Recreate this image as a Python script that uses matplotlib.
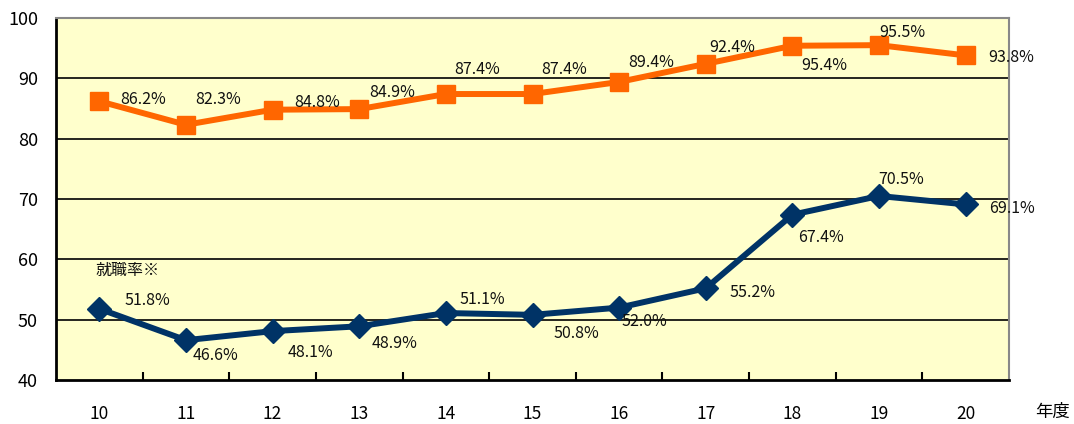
import matplotlib
matplotlib.use("Agg")
import matplotlib.pyplot as plt

plt.rcParams['font.family'] = ['Noto Sans CJK JP', 'DejaVu Sans']

years = ["10", "11", "12", "13", "14", "15", "16", "17", "18", "19", "20"]
rate_a = [86.2, 82.3, 84.8, 84.9, 87.4, 87.4, 89.4, 92.4, 95.4, 95.5, 93.8]
rate_b = [51.8, 46.6, 48.1, 48.9, 51.1, 50.8, 52.0, 55.2, 67.4, 70.5, 69.1]

# label offsets in pixels (dx, dy)
off_a = [(44, 2), (32, 25), (45, 7), (33, 17), (31, 25), (32, 25), (32, 19),
         (26, 16), (32, -20), (23, 13), (46, -2)]
off_b = [(48, 8), (30, -15), (38, -21), (35, -17), (36, 14), (44, -19),
         (25, -14), (47, -4), (29, -23), (22, 16), (46, -4)]

orange = "#FF6600"
navy = "#003366"

fig = plt.figure(figsize=(10.74, 4.24), dpi=100)
ax = fig.add_axes([56/1074, 44/424, 953/1074, 362/424])
ax.set_facecolor("#FFFFCC")

x = list(range(len(years)))
ax.plot(x, rate_a, color=orange, lw=4.3, marker="s", ms=13, zorder=3)
ax.plot(x, rate_b, color=navy, lw=4.3, marker="D", ms=12.5, zorder=3)

for xi, v, (dx, dy) in zip(x, rate_a, off_a):
    ax.annotate(f"{v:.1f}%", (xi, v), xytext=(dx, dy), textcoords="offset pixels",
                ha="center", va="center", fontsize=11.5, color="#111111", zorder=4,
                annotation_clip=False)
for xi, v, (dx, dy) in zip(x, rate_b, off_b):
    ax.annotate(f"{v:.1f}%", (xi, v), xytext=(dx, dy), textcoords="offset pixels",
                ha="center", va="center", fontsize=11.5, color="#111111", zorder=4,
                annotation_clip=False)

ax.annotate("就職率※", (0, rate_b[0]), xytext=(28, 38), textcoords="offset pixels",
            ha="center", va="center", fontsize=11.5, color="#111111")

ax.set_xlim(-0.5, len(years) - 0.5)
ax.set_ylim(40, 100)
ax.set_yticks([40, 50, 60, 70, 80, 90, 100])
ax.set_xticks(x)
ax.set_xticklabels(years)
ax.set_xticks([i + 0.5 for i in range(len(years) - 1)], minor=True)
ax.tick_params(axis="x", which="major", length=0, pad=18, labelsize=12.5)
ax.tick_params(axis="x", which="minor", length=6, width=1.5, direction="in")
ax.tick_params(axis="y", length=0, pad=13, labelsize=13)

for yv in [50, 60, 70, 80, 90]:
    ax.axhline(yv, color="black", lw=1.2, zorder=1)

ax.spines["left"].set_linewidth(2)
ax.spines["bottom"].set_linewidth(2)
ax.spines["top"].set_color("#888888")
ax.spines["right"].set_color("#888888")
ax.spines["top"].set_linewidth(1.5)
ax.spines["right"].set_linewidth(1.5)

fig.text(1053/1074, 1 - 412/424, "年度", ha="center", va="center", fontsize=12.5)

fig.savefig("out.png", dpi=100)
